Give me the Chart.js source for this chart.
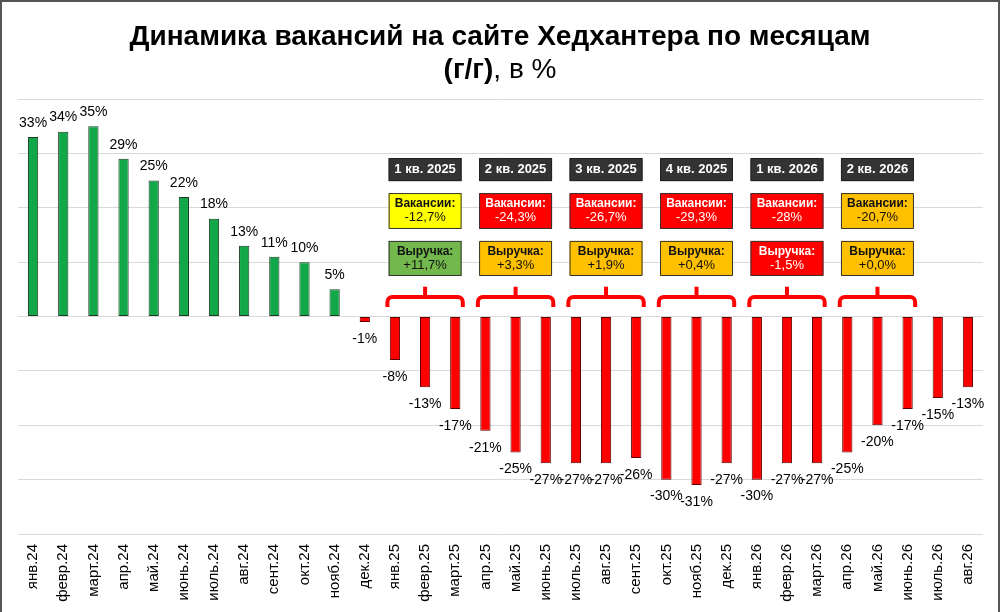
<!DOCTYPE html>
<html lang="ru">
<head>
  <meta charset="UTF-8">
  <title>Динамика вакансий</title>
  <style>
    html, body { margin: 0; padding: 0; background: #fff; }
    #wrap {
      position: relative;
      width: 1000px;
      height: 612px;
      font-family: "Liberation Sans", Arial, sans-serif;
    }
    #titulo {
      position: absolute;
      left: 0; top: 19px;
      width: 1000px;
      text-align: center;
      font-size: 28px;
      line-height: 33px;
      color: #000;
      font-weight: normal;
    }
    #titulo b { font-weight: bold; }
    #moldura {
      position: absolute;
      left: 0; top: 0; right: 0; bottom: 0;
      border-left: 2px solid #555;
      border-right: 2px solid #555;
      border-top: 2px solid #555;
      pointer-events: none;
    }
    #grafico { position: absolute; left: 0; top: 0; }
  </style>
</head>
<body>
<div id="wrap">
  <canvas id="grafico" width="1000" height="612"></canvas>
  <div id="titulo"><b>Динамика вакансий на сайте Хедхантера по месяцам</b><br><b>(г/г)</b>, в %</div>
  <div id="moldura"></div>
</div>

<script src="https://cdn.jsdelivr.net/npm/chart.js"></script>
<script>
// dados
const meses = ['янв.24','февр.24','март.24','апр.24','май.24','июнь.24','июль.24','авг.24','сент.24','окт.24','нояб.24','дек.24',
  'янв.25','февр.25','март.25','апр.25','май.25','июнь.25','июль.25','авг.25','сент.25','окт.25','нояб.25','дек.25',
  'янв.26','февр.26','март.26','апр.26','май.26','июнь.26','июль.26','авг.26'];
const vagas = [33,34,35,29,25,22,18,13,11,10,5,-1,-8,-13,-17,-21,-25,-27,-27,-27,-26,-30,-31,-27,-30,-27,-27,-25,-20,-17,-15,-13];

// trimestres (primeiro mes de cada um)
const trimestres = ['1 кв. 2025','2 кв. 2025','3 кв. 2025','4 кв. 2025','1 кв. 2026','2 кв. 2026'];
const inicioTrim = [12,15,18,21,24,27];
const vagasTrim = ['-12,7','-24,3','-26,7','-29,3','-28','-20,7'];
const receitaTrim = ['+11,7','+3,3','+1,9','+0,4','-1,5','+0,0'];

const num = s => parseFloat(s.replace(',', '.'));
const corVagas = v => v > -15 ? '#ffff00' : (v > -22 ? '#ffc000' : '#ff0000');
const corReceita = v => v >= 5 ? '#72b84c' : (v >= 0 ? '#ffc000' : '#ff0000');

const FONTE = '"Liberation Sans", Arial, sans-serif';

// rotulos das barras
const rotulos = {
  id: 'rotulos',
  afterDatasetsDraw(chart) {
    const ctx = chart.ctx;
    const meta = chart.getDatasetMeta(0);
    ctx.save();
    ctx.font = '14px ' + FONTE;
    ctx.fillStyle = '#000';
    ctx.textAlign = 'center';
    ctx.textBaseline = 'middle';
    meta.data.forEach((bar, i) => {
      const v = vagas[i];
      const y = v >= 0 ? bar.y - 14 : bar.y + 17;
      ctx.fillText(v + '%', bar.x, y);
    });
    ctx.restore();
  }
};

function caixa(ctx, cx, y1, y2, w, fundo, borda) {
  ctx.fillStyle = fundo;
  ctx.fillRect(cx - w / 2, y1, w, y2 - y1);
  ctx.strokeStyle = borda;
  ctx.lineWidth = 1;
  ctx.strokeRect(cx - w / 2 + 0.5, y1 + 0.5, w - 1, y2 - y1 - 1);
}

// quadros dos trimestres + chaves
const trimestresPlugin = {
  id: 'trimestres',
  afterDatasetsDraw(chart) {
    const ctx = chart.ctx;
    const xs = chart.scales.x, ys = chart.scales.y;
    const passo = xs.getPixelForValue(1) - xs.getPixelForValue(0);
    const w = passo * 2.42;
    ctx.save();
    ctx.textAlign = 'center';
    ctx.textBaseline = 'middle';
    trimestres.forEach((nome, k) => {
      const cx = xs.getPixelForValue(inicioTrim[k] + 1);

      // cabecalho
      let t = ys.getPixelForValue(29.15), b = ys.getPixelForValue(24.9);
      caixa(ctx, cx, t, b, w, '#333333', '#222');
      ctx.fillStyle = '#fff';
      ctx.font = 'bold 13px ' + FONTE;
      ctx.fillText(nome, cx, (t + b) / 2);

      // vagas
      const v = num(vagasTrim[k]);
      let fundo = corVagas(v);
      t = ys.getPixelForValue(22.7); b = ys.getPixelForValue(16.1);
      caixa(ctx, cx, t, b, w, fundo, '#333');
      ctx.fillStyle = fundo === '#ff0000' ? '#fff' : '#111';
      ctx.font = 'bold 12px ' + FONTE;
      ctx.fillText('Вакансии:', cx, t + 11);
      ctx.font = '13px ' + FONTE;
      ctx.fillText(vagasTrim[k] + '%', cx, t + 24.5);

      // receita
      const r = num(receitaTrim[k]);
      fundo = corReceita(r);
      t = ys.getPixelForValue(13.9); b = ys.getPixelForValue(7.45);
      caixa(ctx, cx, t, b, w, fundo, '#333');
      ctx.fillStyle = fundo === '#ff0000' ? '#fff' : '#111';
      ctx.font = 'bold 12px ' + FONTE;
      ctx.fillText('Выручка:', cx, t + 11);
      ctx.font = '13px ' + FONTE;
      ctx.fillText(receitaTrim[k] + '%', cx, t + 24.5);

      // chave
      const esq = cx - passo * 1.25, dir = cx + passo * 1.25;
      const yl = ys.getPixelForValue(3.6), yb = ys.getPixelForValue(1.75), yt = ys.getPixelForValue(5.45);
      const raio = 5;
      ctx.strokeStyle = '#f00';
      ctx.lineWidth = 4;
      ctx.lineJoin = 'round';
      ctx.beginPath();
      ctx.moveTo(esq, yb);
      ctx.arcTo(esq, yl, esq + raio, yl, raio);
      ctx.lineTo(dir - raio, yl);
      ctx.arcTo(dir, yl, dir, yb, raio);
      ctx.lineTo(dir, yb);
      ctx.moveTo(cx, yl);
      ctx.lineTo(cx, yt);
      ctx.stroke();
    });
    ctx.restore();
  }
};

const ctx = document.getElementById('grafico').getContext('2d');
new Chart(ctx, {
  type: 'bar',
  data: {
    labels: meses,
    datasets: [{
      data: vagas,
      backgroundColor: vagas.map(v => v >= 0 ? '#12a84a' : '#ff0000'),
      borderColor: vagas.map(v => v >= 0 ? '#1d3b22' : '#5a0000'),
      borderWidth: 1,
      borderSkipped: false,
      barPercentage: 0.34,
      categoryPercentage: 1.0
    }]
  },
  options: {
    responsive: false,
    animation: false,
    layout: { padding: { left: 18, right: 17, top: 99, bottom: 0 } },
    plugins: {
      legend: { display: false },
      tooltip: { enabled: false },
      title: { display: false }
    },
    scales: {
      x: {
        grid: { display: false },
        border: { display: false },
        ticks: {
          color: '#000',
          font: { family: FONTE, size: 15 },
          minRotation: 90,
          maxRotation: 90,
          autoSkip: false,
          padding: 2
        },
        afterFit(s) { s.height = 78; }
      },
      y: {
        min: -40,
        max: 40,
        ticks: { display: false, stepSize: 10 },
        grid: { color: '#d9d9d9', drawTicks: false },
        border: { display: false },
        afterFit(s) { s.width = 0; }
      }
    }
  },
  plugins: [rotulos, trimestresPlugin]
});
</script>
</body>
</html>
